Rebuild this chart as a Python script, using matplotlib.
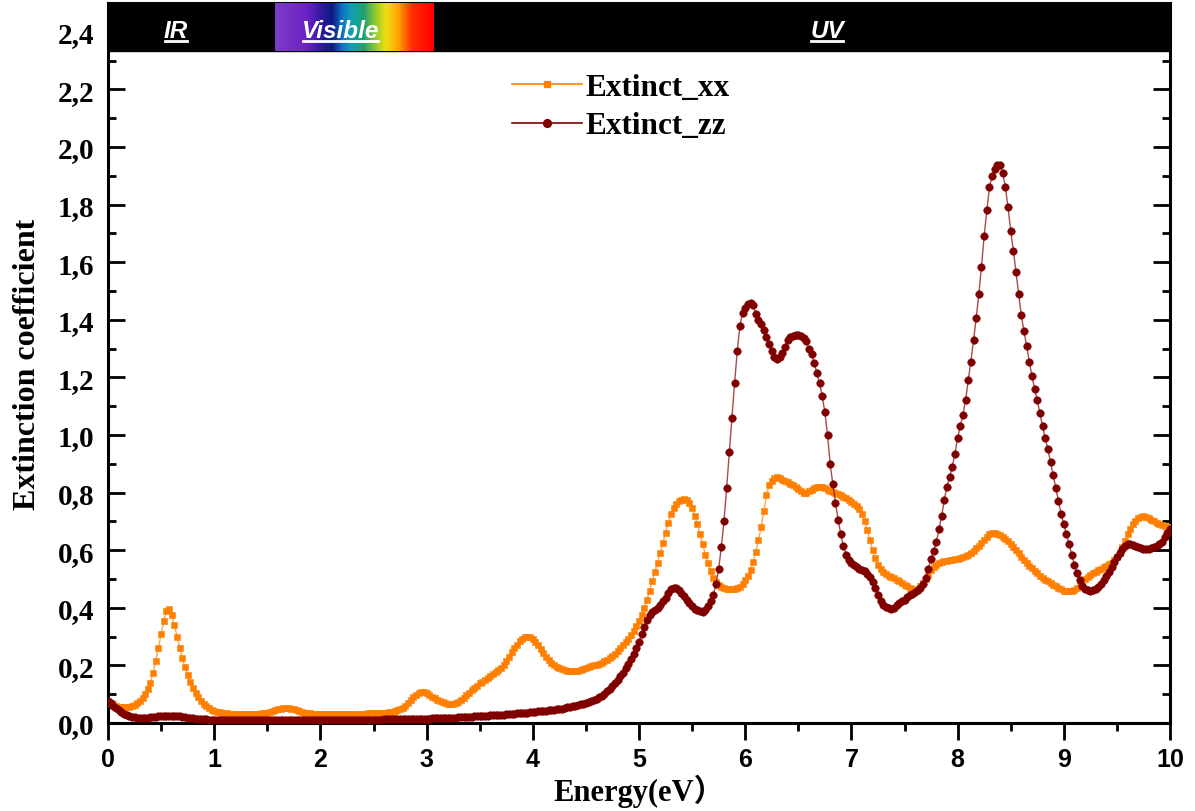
import numpy as np
import matplotlib
matplotlib.use("Agg")
import matplotlib.pyplot as plt
from matplotlib.colors import LinearSegmentedColormap
from matplotlib.ticker import MultipleLocator, FuncFormatter
from matplotlib.lines import Line2D

# ---------------- data ----------------
energy = [round(i * 0.025, 3) for i in range(401)]

extinct_xx = [
    0.075, 0.070, 0.065, 0.060, 0.057, 0.055, 0.055, 0.056, 0.057, 0.060, 0.063, 0.069, 0.078, 0.088, 0.100, 0.118, 0.140, 0.175, 0.215, 0.262,
    0.310, 0.355, 0.388, 0.395, 0.375, 0.340, 0.300, 0.262, 0.226, 0.194, 0.165, 0.141, 0.120, 0.104, 0.090, 0.077, 0.066, 0.058, 0.052, 0.046,
    0.042, 0.039, 0.037, 0.035, 0.034, 0.033, 0.032, 0.031, 0.031, 0.030, 0.030, 0.030, 0.030, 0.030, 0.030, 0.030, 0.031, 0.032, 0.033, 0.034,
    0.036, 0.038, 0.041, 0.044, 0.047, 0.049, 0.051, 0.052, 0.052, 0.050, 0.048, 0.044, 0.041, 0.038, 0.036, 0.034, 0.033, 0.032, 0.031, 0.030,
    0.030, 0.030, 0.030, 0.030, 0.030, 0.030, 0.030, 0.030, 0.031, 0.031, 0.031, 0.031, 0.031, 0.031, 0.032, 0.032, 0.032, 0.032, 0.033, 0.033,
    0.033, 0.033, 0.034, 0.034, 0.035, 0.036, 0.037, 0.039, 0.041, 0.044, 0.048, 0.053, 0.060, 0.070, 0.080, 0.090, 0.098, 0.104, 0.107, 0.106,
    0.103, 0.098, 0.092, 0.086, 0.080, 0.076, 0.072, 0.069, 0.067, 0.066, 0.066, 0.069, 0.074, 0.080, 0.088, 0.096, 0.104, 0.113, 0.122, 0.130,
    0.138, 0.144, 0.150, 0.156, 0.162, 0.169, 0.176, 0.184, 0.192, 0.202, 0.215, 0.230, 0.245, 0.259, 0.272, 0.283, 0.292, 0.298, 0.300, 0.298,
    0.292, 0.282, 0.270, 0.256, 0.242, 0.229, 0.218, 0.208, 0.200, 0.194, 0.190, 0.187, 0.184, 0.182, 0.181, 0.181, 0.181, 0.182, 0.184, 0.187,
    0.190, 0.193, 0.197, 0.200, 0.203, 0.206, 0.210, 0.215, 0.220, 0.226, 0.233, 0.241, 0.250, 0.260, 0.270, 0.281, 0.292, 0.305, 0.320, 0.337,
    0.355, 0.376, 0.400, 0.428, 0.460, 0.492, 0.525, 0.557, 0.590, 0.625, 0.660, 0.695, 0.725, 0.745, 0.760, 0.770, 0.775, 0.777, 0.775, 0.765,
    0.745, 0.720, 0.690, 0.655, 0.620, 0.585, 0.555, 0.528, 0.505, 0.490, 0.480, 0.473, 0.468, 0.466, 0.465, 0.466, 0.467, 0.469, 0.473, 0.482,
    0.495, 0.510, 0.530, 0.558, 0.595, 0.635, 0.680, 0.735, 0.790, 0.825, 0.842, 0.850, 0.853, 0.850, 0.845, 0.840, 0.836, 0.830, 0.825, 0.818,
    0.812, 0.806, 0.800, 0.800, 0.805, 0.810, 0.815, 0.818, 0.820, 0.818, 0.815, 0.810, 0.805, 0.801, 0.798, 0.794, 0.790, 0.785, 0.780, 0.774,
    0.768, 0.762, 0.755, 0.742, 0.725, 0.700, 0.670, 0.635, 0.600, 0.572, 0.550, 0.535, 0.525, 0.518, 0.512, 0.507, 0.502, 0.497, 0.492, 0.486,
    0.480, 0.474, 0.468, 0.464, 0.462, 0.466, 0.475, 0.486, 0.500, 0.515, 0.530, 0.540, 0.548, 0.554, 0.558, 0.561, 0.563, 0.565, 0.567, 0.569,
    0.571, 0.574, 0.577, 0.581, 0.585, 0.591, 0.598, 0.606, 0.615, 0.626, 0.637, 0.647, 0.655, 0.659, 0.660, 0.657, 0.652, 0.646, 0.640, 0.632,
    0.622, 0.611, 0.600, 0.589, 0.578, 0.567, 0.556, 0.546, 0.537, 0.528, 0.520, 0.512, 0.505, 0.498, 0.492, 0.486, 0.480, 0.474, 0.468, 0.464,
    0.460, 0.458, 0.458, 0.460, 0.463, 0.470, 0.478, 0.488, 0.500, 0.508, 0.515, 0.520, 0.525, 0.530, 0.535, 0.540, 0.545, 0.551, 0.557, 0.565,
    0.575, 0.590, 0.610, 0.632, 0.655, 0.675, 0.690, 0.702, 0.712, 0.716, 0.718, 0.716, 0.712, 0.706, 0.700, 0.695, 0.690, 0.686, 0.683, 0.681,
    0.680,
]

extinct_zz = [
    0.075, 0.068, 0.060, 0.052, 0.045, 0.038, 0.032, 0.027, 0.024, 0.022, 0.020, 0.019, 0.019, 0.019, 0.019, 0.019, 0.020, 0.021, 0.022, 0.023,
    0.024, 0.025, 0.025, 0.025, 0.025, 0.025, 0.024, 0.023, 0.022, 0.020, 0.019, 0.017, 0.016, 0.015, 0.014, 0.013, 0.013, 0.013, 0.012, 0.012,
    0.012, 0.012, 0.012, 0.012, 0.012, 0.012, 0.012, 0.012, 0.012, 0.012, 0.012, 0.012, 0.012, 0.012, 0.012, 0.012, 0.012, 0.012, 0.012, 0.012,
    0.012, 0.012, 0.012, 0.012, 0.012, 0.012, 0.012, 0.012, 0.012, 0.012, 0.012, 0.012, 0.012, 0.012, 0.012, 0.012, 0.012, 0.012, 0.012, 0.012,
    0.012, 0.012, 0.012, 0.012, 0.012, 0.012, 0.012, 0.012, 0.012, 0.012, 0.012, 0.012, 0.012, 0.012, 0.012, 0.012, 0.012, 0.012, 0.012, 0.012,
    0.012, 0.012, 0.012, 0.012, 0.013, 0.013, 0.013, 0.013, 0.013, 0.013, 0.013, 0.013, 0.014, 0.014, 0.014, 0.014, 0.014, 0.014, 0.015, 0.015,
    0.015, 0.015, 0.016, 0.016, 0.016, 0.017, 0.017, 0.017, 0.018, 0.018, 0.019, 0.019, 0.020, 0.020, 0.021, 0.021, 0.022, 0.022, 0.023, 0.023,
    0.024, 0.024, 0.025, 0.026, 0.027, 0.027, 0.028, 0.028, 0.029, 0.029, 0.030, 0.031, 0.032, 0.032, 0.033, 0.033, 0.034, 0.035, 0.036, 0.037,
    0.038, 0.039, 0.040, 0.041, 0.042, 0.043, 0.044, 0.045, 0.046, 0.047, 0.049, 0.050, 0.052, 0.054, 0.056, 0.058, 0.060, 0.062, 0.065, 0.067,
    0.070, 0.073, 0.077, 0.081, 0.085, 0.090, 0.095, 0.102, 0.110, 0.118, 0.128, 0.139, 0.150, 0.162, 0.175, 0.190, 0.205, 0.222, 0.240, 0.260,
    0.280, 0.308, 0.335, 0.357, 0.375, 0.386, 0.393, 0.400, 0.410, 0.422, 0.435, 0.450, 0.465, 0.470, 0.470, 0.463, 0.452, 0.440, 0.428, 0.416,
    0.405, 0.397, 0.392, 0.389, 0.387, 0.392, 0.405, 0.422, 0.445, 0.482, 0.535, 0.610, 0.700, 0.815, 0.940, 1.060, 1.180, 1.290, 1.380, 1.425,
    1.440, 1.455, 1.458, 1.450, 1.420, 1.400, 1.385, 1.365, 1.340, 1.315, 1.290, 1.272, 1.265, 1.272, 1.285, 1.305, 1.330, 1.342, 1.345, 1.348,
    1.348, 1.345, 1.338, 1.325, 1.300, 1.280, 1.250, 1.215, 1.180, 1.135, 1.080, 1.000, 0.900, 0.830, 0.765, 0.705, 0.655, 0.615, 0.585, 0.565,
    0.555, 0.547, 0.540, 0.536, 0.532, 0.527, 0.518, 0.506, 0.490, 0.470, 0.445, 0.425, 0.410, 0.402, 0.398, 0.397, 0.400, 0.408, 0.418, 0.424,
    0.428, 0.436, 0.443, 0.449, 0.455, 0.462, 0.468, 0.482, 0.505, 0.535, 0.570, 0.598, 0.630, 0.672, 0.720, 0.775, 0.820, 0.855, 0.890, 0.935,
    0.990, 1.030, 1.070, 1.120, 1.190, 1.255, 1.330, 1.405, 1.490, 1.585, 1.690, 1.780, 1.860, 1.900, 1.925, 1.937, 1.937, 1.910, 1.860, 1.790,
    1.710, 1.640, 1.565, 1.490, 1.415, 1.360, 1.310, 1.255, 1.205, 1.160, 1.120, 1.075, 1.030, 0.990, 0.950, 0.905, 0.860, 0.815, 0.770, 0.725,
    0.690, 0.655, 0.620, 0.585, 0.550, 0.520, 0.495, 0.476, 0.465, 0.461, 0.460, 0.461, 0.465, 0.472, 0.482, 0.495, 0.510, 0.525, 0.540, 0.558,
    0.575, 0.590, 0.605, 0.614, 0.620, 0.620, 0.618, 0.614, 0.610, 0.607, 0.605, 0.604, 0.604, 0.606, 0.610, 0.614, 0.620, 0.630, 0.645, 0.660,
    0.675,
]

series_names = ["Extinct_xx", "Extinct_zz"]
band_labels = ["IR", "Visible", "UV"]
band_label_x = [0.64, 2.19, 6.77]
visible_range = [1.57, 3.06]
x_ticks = list(range(0, 11))
y_ticks = [round(0.2 * i, 1) for i in range(13)]

n = min(len(energy), len(extinct_xx), len(extinct_zz))

# ---------------- style ----------------
c_xx = "#FF8000"
c_zz = "#800000"
serif = "Liberation Serif"
sans = "Liberation Sans"

fig = plt.figure(figsize=(11.95, 8.12), dpi=100)
ax = fig.add_axes([108 / 1195, 1 - 724 / 812, 1062 / 1195, 720 / 812])

ax.plot(energy[:n], extinct_xx[:n], color=c_xx, lw=1.0, alpha=0.7, zorder=3)
ax.plot(energy[:n], extinct_xx[:n], ls="none", marker="s", ms=4.8, color=c_xx,
        mec=c_xx, mew=0.4, zorder=4)
ax.plot(energy[:n], extinct_zz[:n], color=c_zz, lw=1.0, alpha=0.7, zorder=5)
ax.plot(energy[:n], extinct_zz[:n], ls="none", marker="o", ms=5.4, color=c_zz,
        mec=c_zz, mew=0.4, zorder=6)

ax.set_xlim(0, 10)
ax.set_ylim(0, 2.5)

# banner
ybot = 2.335
ax.fill_between([0, 10], ybot, 2.5, color="black", zorder=7)
cmap = LinearSegmentedColormap.from_list("vis", [
    (0.00, "#7d3cc8"), (0.20, "#6a22c4"), (0.30, "#2a1a9a"), (0.36, "#101a80"),
    (0.42, "#0a70c8"), (0.48, "#10a0b0"), (0.56, "#20a070"), (0.63, "#90c830"),
    (0.70, "#f0e010"), (0.78, "#ffa000"), (0.86, "#ff3000"), (1.00, "#ff0000")])
grad = np.linspace(0, 1, 256).reshape(1, -1)
ax.imshow(grad, cmap=cmap, aspect="auto",
          extent=[visible_range[0], visible_range[1], ybot, 2.5], zorder=8)

band_texts = []
for lab, xp in zip(band_labels, band_label_x):
    t = ax.text(xp, 2.405, lab, color="white", fontsize=17.5, fontweight="bold",
                fontstyle="italic", family=sans, ha="center", va="center",
                zorder=10)
    band_texts.append(t)

# ticks
ax.set_xticks(x_ticks)
ax.set_yticks(y_ticks)
ax.xaxis.set_minor_locator(MultipleLocator(0.5))
ax.yaxis.set_minor_locator(MultipleLocator(0.1))
ax.yaxis.set_major_formatter(FuncFormatter(lambda v, p: f"{v:.1f}".replace(".", ",")))
ax.tick_params(axis="y", which="both", direction="in", left=True, right=True,
               width=2, labelsize=21, pad=10)
ax.tick_params(axis="y", which="major", length=12)
ax.tick_params(axis="y", which="minor", length=6)
ax.tick_params(axis="x", which="both", direction="out", top=False, width=2,
               labelsize=18, pad=5)
ax.tick_params(axis="x", which="major", length=12)
ax.tick_params(axis="x", which="minor", length=6)
for lab in ax.get_yticklabels():
    lab.set_family(serif)
    lab.set_fontweight("bold")
for lab in ax.get_xticklabels():
    lab.set_family(sans)
    lab.set_fontweight("bold")
for s in ax.spines.values():
    s.set_linewidth(2.2)

ax.set_xlabel("Energy(eV\uff09", fontsize=22, fontweight="bold",
              family=[serif, "Noto Sans CJK SC"])
ax.xaxis.set_label_coords(0.5, -0.07)
ax.set_ylabel("Extinction coefficient", fontsize=23, fontweight="bold", family=serif)
ax.yaxis.set_label_coords(-0.062, 0.5)

handles = [
    Line2D([], [], color=c_xx, lw=1.2, alpha=0.7, marker="s", ms=5.0,
           mfc=c_xx, mec=c_xx),
    Line2D([], [], color=c_zz, lw=1.2, alpha=0.7, marker="o", ms=5.6,
           mfc=c_zz, mec=c_zz),
]
leg = ax.legend(handles, series_names, loc="upper left",
                bbox_to_anchor=((484 - 108) / 1062, (724 - 46) / 720),
                frameon=False, handlelength=2.25, handletextpad=0.1,
                labelspacing=0.3, prop={"family": serif, "weight": "bold", "size": 22.5})
for h in leg.legend_handles:
    h.set_alpha(1.0)
leg.set_zorder(12)

# underline banner labels
fig.canvas.draw()
inv = fig.transFigure.inverted()
for t in band_texts:
    bb = t.get_window_extent()
    (x0, y0) = inv.transform((bb.x0 + 1, bb.y0 + 1))
    (x1, _) = inv.transform((bb.x1 - 1, bb.y0 + 1))
    fig.add_artist(Line2D([x0, x1], [y0, y0], color="white", lw=2,
                          transform=fig.transFigure, zorder=20))

print(len(energy), len(extinct_xx), len(extinct_zz))
fig.savefig("out.png", dpi=100)
